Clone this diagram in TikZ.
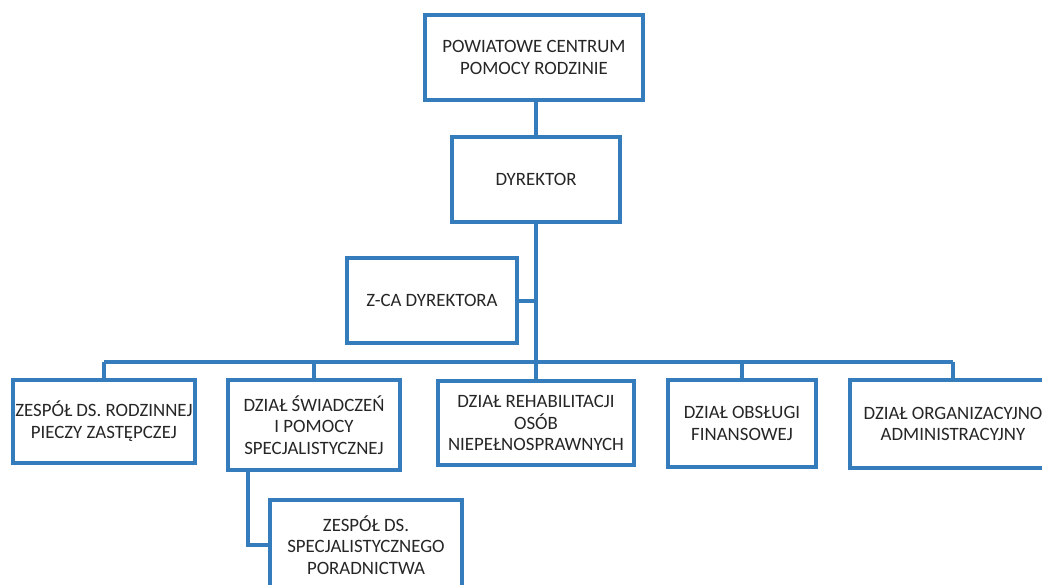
\documentclass[tikz,border=0pt]{standalone}
\usepackage{fontspec}
\setmainfont{Carlito}
\definecolor{ramka}{RGB}{52,124,188}

\begin{document}
\begin{tikzpicture}[x=0.025cm, y=-0.025cm,
    blok/.style={draw=ramka, line width=1mm, fill=white,
        text=black!85, font=\fontsize{13.4}{15.5}\selectfont,
        align=center, inner sep=0pt, outer sep=0pt},
    linia/.style={draw=ramka, line width=1mm}
    ]
    \useasboundingbox (0,0) rectangle (1042,585);
    \clip (0,0) rectangle (1042,585);
    % kierownictwo
    \node[blok, minimum width=5.45cm, minimum height=2.125cm] (pcpr) at (534,57.5)
        {POWIATOWE CENTRUM\\ POMOCY RODZINIE};
    \node[blok, minimum width=4.2cm, minimum height=2.125cm] (dyr) at (536,179.5)
        {DYREKTOR};
    \node[blok, minimum width=4.25cm, minimum height=2.125cm] (zca) at (432,300.5)
        {Z-CA DYREKTORA};
    \coordinate (szyna) at (536,362);
    \coordinate (szynaL) at (104,362);
    \coordinate (szynaR) at (953,362);
    % dzialy
    \node[blok, minimum width=4.55cm, minimum height=2.075cm] (zrpz) at (104,421.5)
        {ZESPÓŁ DS. RODZINNEJ\\ PIECZY ZASTĘPCZEJ};
    \node[blok, minimum width=4.3cm, minimum height=2.25cm] (dsw) at (314,425)
        {DZIAŁ ŚWIADCZEŃ\\ I POMOCY\\ SPECJALISTYCZNEJ};
    \node[blok, minimum width=4.9cm, minimum height=2.1cm] (drh) at (536,423)
        {DZIAŁ REHABILITACJI\\ OSÓB\\ NIEPEŁNOSPRAWNYCH};
    \node[blok, minimum width=3.675cm, minimum height=2.175cm] (dof) at (742,423.5)
        {DZIAŁ OBSŁUGI\\ FINANSOWEJ};
    \node[blok, minimum width=5.15cm, minimum height=2.2cm] (doa) at (953,424)
        {DZIAŁ ORGANIZACYJNO\\ ADMINISTRACYJNY};
    \node[blok, minimum width=4.8cm, minimum height=2.25cm] (zsp) at (366,545)
        {ZESPÓŁ DS.\\ SPECJALISTYCZNEGO\\ PORADNICTWA};
    % polaczenia
    \draw[linia] (dyr.north) -- (dyr.north |- pcpr.south);
    \draw[linia] (dyr.south) -- (szyna);
    \draw[linia] (zca.east) -- (zca.east -| szyna);
    \draw[linia] (szynaL) -- (szynaR);
    \foreach \n in {zrpz,dsw,drh,dof,doa}
        \draw[linia] (\n.north) -- (\n.north |- szyna);
    \draw[linia] (dsw.south west) ++(20,0) |- (zsp.west);
\end{tikzpicture}
\end{document}
